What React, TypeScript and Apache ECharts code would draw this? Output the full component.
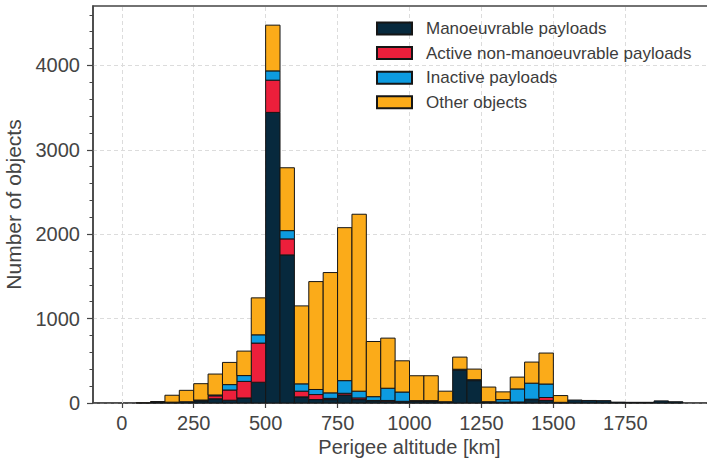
import React, { useEffect, useRef } from "react";
import * as echarts from "echarts";

// Lower edges of the 50 km perigee-altitude bins
const binStarts = [
  0, 50, 100, 150, 200, 250, 300, 350, 400, 450, 500, 550, 600, 650, 700, 750, 800, 850, 900, 950,
  1000, 1050, 1100, 1150, 1200, 1250, 1300, 1350, 1400, 1450, 1500, 1550, 1600, 1650, 1700, 1750,
  1800, 1850, 1900,
];
const binWidth = 50;

const manoeuvrable = [
  0, 0, 12, 10, 15, 25, 50, 33, 60, 246, 3444, 1755, 73, 41, 40, 95, 40, 25, 20, 15,
  20, 20, 10, 385, 265, 10, 10, 10, 40, 30, 5, 35, 30, 28, 10, 8, 8, 25, 15,
];
const activeNonManoeuvrable = [
  0, 0, 0, 0, 0, 5, 35, 121, 196, 464, 382, 190, 67, 59, 15, 20, 20, 5, 10, 5,
  3, 3, 0, 5, 5, 0, 0, 2, 5, 35, 0, 0, 0, 0, 0, 0, 0, 0, 0,
];
const inactive = [
  0, 0, 0, 0, 0, 5, 10, 64, 69, 98, 110, 98, 87, 60, 65, 150, 80, 45, 145, 110,
  5, 5, 5, 10, 6, 5, 30, 155, 190, 160, 3, 0, 0, 0, 0, 0, 0, 0, 0,
];
const otherObjects = [
  0, 2, 5, 82, 135, 194, 248, 263, 290, 438, 542, 745, 924, 1279, 1426, 1813, 2097, 654, 594, 370,
  295, 295, 125, 144, 126, 174, 92, 140, 250, 367, 80, 0, 0, 0, 0, 0, 0, 0, 0,
];

const seriesNames = [
  "Manoeuvrable payloads",
  "Active non-manoeuvrable payloads",
  "Inactive payloads",
  "Other objects",
];
const seriesColors = ["#07293d", "#ec1f3b", "#0d9be0", "#fbab19"];
const xTicks = [0, 250, 500, 750, 1000, 1250, 1500, 1750];
const yTicks = [0, 1000, 2000, 3000, 4000];

const FONT = "Liberation Sans, Arial, sans-serif";

export default function App() {
  const ref = useRef<HTMLDivElement>(null);
  useEffect(() => {
    if (!ref.current) return;
    const chart = echarts.init(ref.current, undefined, { renderer: "svg" });
    const values = [manoeuvrable, activeNonManoeuvrable, inactive, otherObjects];

    const series: any[] = values.map((arr, k) => {
      const data: number[][] = [];
      arr.forEach((v, i) => {
        if (v <= 0) return;
        let bottom = 0;
        for (let j = 0; j < k; j++) bottom += values[j][i];
        data.push([binStarts[i], binStarts[i] + binWidth, bottom, bottom + v]);
      });
      return {
        name: seriesNames[k],
        type: "custom",
        z: 2,
        encode: { x: [0, 1], y: [2, 3] },
        data,
        itemStyle: { color: seriesColors[k], borderColor: "#151515", borderWidth: 1 },
        renderItem: (params: any, api: any) => {
          const p0 = api.coord([api.value(0), api.value(3)]);
          const p1 = api.coord([api.value(1), api.value(2)]);
          return {
            type: "rect",
            shape: { x: p0[0], y: p0[1], width: p1[0] - p0[0], height: p1[1] - p0[1] },
            style: { fill: seriesColors[k], stroke: "#151515", lineWidth: 1 },
          };
        },
        ...(k === 0
          ? {
              markLine: {
                silent: true,
                z: 1,
                symbol: ["none", "none"],
                label: { show: false },
                lineStyle: { type: [4, 3], color: "#dcdcdc", width: 1 },
                data: xTicks.map((t) => ({ xAxis: t })),
              },
            }
          : {}),
      };
    });

    chart.setOption({
      animation: false,
      grid: {
        left: 93,
        top: 6,
        width: 633,
        height: 397,
        show: true,
        borderColor: "#444",
        borderWidth: 1.5,
        containLabel: false,
        outerBoundsMode: "none",
      },
      legend: {
        data: seriesNames,
        orient: "vertical",
        left: 376,
        top: 20,
        padding: 0,
        icon: "rect",
        itemWidth: 35,
        itemHeight: 12,
        itemGap: 7.6,
        textStyle: {
          fontFamily: FONT,
          fontSize: 17,
          lineHeight: 17,
          color: "#3c3c3c",
          padding: [0, 0, 0, 9],
        },
      },
      xAxis: {
        type: "value",
        min: -100,
        max: 2100,
        name: "Perigee altitude [km]",
        nameLocation: "middle",
        nameGap: 33,
        nameMoveOverlap: false,
        nameTextStyle: { fontFamily: FONT, fontSize: 20, lineHeight: 22, color: "#444" },
        axisLine: { show: true, onZero: false, lineStyle: { color: "#444", width: 1.5 } },
        axisTick: { show: true, length: 5, customValues: xTicks, lineStyle: { color: "#444", width: 1.2 } },
        axisLabel: {
          customValues: xTicks,
          margin: 10,
          fontFamily: FONT,
          fontSize: 20,
          color: "#444",
          formatter: (v: number) => String(v),
        },
        splitLine: { show: false },
      },
      yAxis: {
        type: "value",
        min: 0,
        max: 4705,
        interval: 1000,
        name: "Number of objects",
        nameLocation: "middle",
        nameGap: 69,
        nameMoveOverlap: false,
        nameTextStyle: { fontFamily: FONT, fontSize: 21, color: "#444" },
        axisLine: { show: true, onZero: false, lineStyle: { color: "#444", width: 1.5 } },
        axisTick: { show: true, length: 6, customValues: yTicks, lineStyle: { color: "#444", width: 1.2 } },
        minorTick: { show: true, splitNumber: 5, length: 3.5, lineStyle: { color: "#444", width: 1 } },
        axisLabel: {
          customValues: yTicks,
          margin: 13,
          fontFamily: FONT,
          fontSize: 20,
          color: "#444",
          formatter: (v: number) => String(v),
        },
        splitLine: { show: true, lineStyle: { type: [4, 3], color: "#dcdcdc", width: 1 } },
      },
      series,
    });
    return () => chart.dispose();
  }, []);
  return (
    <div
      ref={ref}
      style={{ position: "absolute", left: 0, top: 0, width: 707, height: 458, background: "#fff" }}
    />
  );
}
